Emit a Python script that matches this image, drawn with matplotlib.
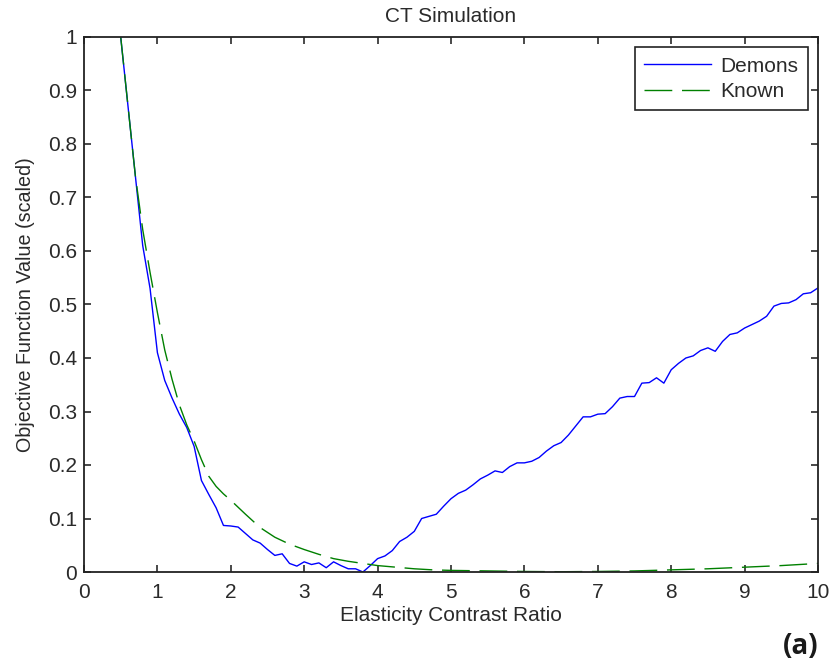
import matplotlib
matplotlib.use("Agg")
import matplotlib.pyplot as plt
import numpy as np

plt.rcParams['font.family'] = ['Liberation Sans', 'DejaVu Sans']
plt.rcParams['lines.scale_dashes'] = False

# Demons curve, x from 0.5 to 10 in steps of 0.1
demons_x = np.round(np.arange(0.5, 10.01, 0.1), 1)
demons_y = [
    1.0, 0.87, 0.74, 0.61, 0.53, 0.41, 0.358, 0.325, 0.295, 0.27,
    0.235, 0.171, 0.145, 0.12, 0.087, 0.086, 0.084, 0.072, 0.06, 0.054,
    0.042, 0.031, 0.034, 0.016, 0.011, 0.019, 0.014, 0.017, 0.008, 0.019,
    0.012, 0.006, 0.006, 0.0, 0.012, 0.025, 0.03, 0.04, 0.057, 0.065,
    0.076, 0.1, 0.104, 0.108, 0.123, 0.137, 0.147, 0.153, 0.163, 0.174,
    0.181, 0.189, 0.186, 0.197, 0.204, 0.204, 0.207, 0.214, 0.226, 0.236,
    0.242, 0.256, 0.273, 0.29, 0.29, 0.295, 0.296, 0.309, 0.325, 0.328,
    0.328, 0.353, 0.354, 0.363, 0.353, 0.378, 0.39, 0.40, 0.404, 0.414,
    0.419, 0.4125, 0.431, 0.444, 0.447, 0.456, 0.4625, 0.469, 0.478, 0.497,
    0.502, 0.503, 0.509, 0.52, 0.522, 0.531,
]

# Known curve
known_x = [0.5, 0.6, 0.7, 0.8, 0.9, 1.0, 1.1, 1.2, 1.3, 1.4,
           1.5, 1.6, 1.7, 1.8, 1.9, 2.0, 2.2, 2.4, 2.6, 2.8,
           3.0, 3.2, 3.4, 3.6, 3.8, 4.0, 4.25, 4.5, 4.75, 5.0,
           5.5, 6.0, 6.5, 7.0, 7.5, 8.0, 8.5, 9.0, 9.5, 10.0]
known_y = [1.0, 0.87, 0.74, 0.64, 0.56, 0.485, 0.415, 0.36, 0.312, 0.275,
           0.245, 0.21, 0.179, 0.16, 0.146, 0.134, 0.108, 0.083, 0.065, 0.052,
           0.042, 0.033, 0.025, 0.02, 0.016, 0.012, 0.009, 0.006, 0.004, 0.003,
           0.002, 0.001, 0.0005, 0.001, 0.002, 0.004, 0.006, 0.009, 0.012, 0.016]

fig = plt.figure(figsize=(8.31, 6.66), dpi=100)
ax = fig.add_axes([84/831, 1 - 572/666, 734/831, 535/666])

ax.plot(demons_x, demons_y, color='#0000ff', linewidth=1.0, label='Demons')
ax.plot(known_x, known_y, color='#008000', linewidth=1.0,
        dashes=(20, 7), label='Known')

ax.set_xlim(0, 10)
ax.set_ylim(0, 1)
ax.set_xticks(range(0, 11))
ax.set_yticks([0, 0.1, 0.2, 0.3, 0.4, 0.5, 0.6, 0.7, 0.8, 0.9, 1])
ax.set_yticklabels(['0', '0.1', '0.2', '0.3', '0.4', '0.5', '0.6', '0.7', '0.8', '0.9', '1'])
ax.tick_params(direction='in', length=5, width=1.2, top=True, right=True,
               labelsize=15, colors='#2a2a2a', pad=5)
ax.tick_params(axis='x', pad=8)
for s in ax.spines.values():
    s.set_linewidth(1.3)
    s.set_color('#222222')

ax.set_title('CT Simulation', fontsize=15, color='#2a2a2a', pad=11)
ax.set_xlabel('Elasticity Contrast Ratio', fontsize=15, color='#2a2a2a', labelpad=3)
ax.set_ylabel('Objective Function Value (scaled)', fontsize=14.2, color='#2a2a2a', labelpad=9)

leg = ax.legend(loc='upper right', fontsize=15, fancybox=False, framealpha=1,
                edgecolor='#222222', handlelength=3.2, borderaxespad=0.5,
                handletextpad=0.45, borderpad=0.45, labelspacing=0.3)
leg.get_frame().set_linewidth(1.2)
for t in leg.get_texts():
    t.set_color('#2a2a2a')

fig.text(819/831, 1 - 646/666, '(a)', fontsize=20, fontweight='bold',
         family=['Open Sans', 'DejaVu Sans'], color='#1a1a1a',
         ha='right', va='center')

fig.savefig('out.png', dpi=100)
